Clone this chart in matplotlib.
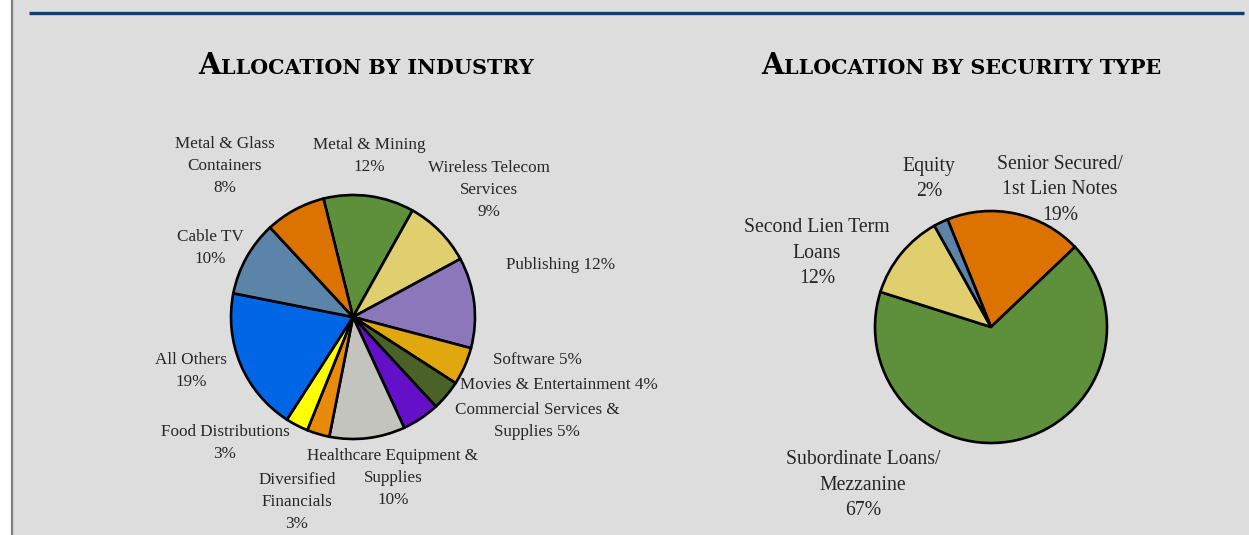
import matplotlib
matplotlib.use("Agg")
import matplotlib.pyplot as plt
from matplotlib.patches import Rectangle

# ---------------- data ----------------
industry_labels = ["Metal & Mining\n12%", "Wireless Telecom\nServices\n9%", "Publishing 12%",
                   "Software 5%", "Movies & Entertainment 4%", "Commercial Services &\nSupplies 5%",
                   "Healthcare Equipment &\nSupplies\n10%", "Diversified\nFinancials\n3%",
                   "Food Distributions\n3%", "All Others\n19%", "Cable TV\n10%",
                   "Metal & Glass\nContainers\n8%"]
industry_values = [12, 9, 12, 5, 4, 5, 10, 3, 3, 19, 10, 8]
industry_colors = ["#5E8F3A", "#DFCF6E", "#8B78BB", "#E0A80E", "#4A6228", "#6410C8",
                   "#C4C4BE", "#E88A0A", "#FFFF00", "#0066E6", "#5B84A8", "#DC7200"]

security_labels = ["Senior Secured/\n1st Lien Notes\n19%", "Subordinate Loans/\nMezzanine\n67%",
                   "Second Lien Term\nLoans\n12%", "Equity\n2%"]
security_values = [19, 67, 12, 2]
security_colors = ["#DC7200", "#5E8F3A", "#DFCF6E", "#5B84A8"]

title_left = "Allocation by industry"
title_right = "Allocation by security type"

# ---------------- layout ----------------
W, H = 1249, 535
BG = "#DDDDDD"
fig = plt.figure(figsize=(W / 100, H / 100), dpi=100)
fig.patch.set_facecolor("white")
ax = fig.add_axes([0, 0, 1, 1])

def py(y):  # pixel-from-top to data y
    return H - y

ax.add_patch(Rectangle((13, 0), W - 13, H, facecolor=BG, edgecolor="none", zorder=0))
ax.plot([12.5, 12.5], [0, H], color="#808080", lw=1.6, zorder=1, solid_capstyle="butt")
ax.plot([29, 1244], [py(12.5), py(12.5)], color="#0B3F7A", lw=2.4, zorder=1, solid_capstyle="butt")

# left pie
ax.pie(industry_values, colors=industry_colors, startangle=104, counterclock=False,
       center=(353, py(317)), radius=122, frame=True,
       wedgeprops=dict(edgecolor="black", linewidth=1.9))
# right pie
ax.pie(security_values, colors=security_colors, startangle=112, counterclock=False,
       center=(991, py(327)), radius=116, frame=True,
       wedgeprops=dict(edgecolor="black", linewidth=1.9))
ax.set_xlim(0, W)
ax.set_ylim(0, H)
ax.set_aspect("auto")
ax.axis("off")

serif = ["Liberation Serif", "DejaVu Serif"]
TXT = "#262626"

def block(lab, x, yc, fs, step):
    lines = lab.split("\n")
    n = len(lines)
    for i, line in enumerate(lines):
        y = yc + (i - (n - 1) / 2) * step
        ax.text(x, py(y), line, ha="center", va="center", fontsize=fs, family=serif,
                color=TXT, zorder=5)

ind_pos = [(369, 156), (489, 190), (561, 265), (537, 360), (559, 385), (537, 421),
           (393, 478), (297, 502), (225, 443), (191, 371), (210, 248), (225, 166)]
for lab, (x, y) in zip(industry_labels, ind_pos):
    block(lab, x, y, 12.3, 21.5)

sec_pos = [(1060, 190), (863, 485), (817, 253), (929, 179)]
for lab, (x, y) in zip(security_labels, sec_pos):
    block(lab, x, y, 14.2, 25.3)

# small-caps titles
fig.canvas.draw()
renderer = fig.canvas.get_renderer()

def smallcaps(text, xc, yc, target_w, big=15.5, small=11.0):
    pieces = [(text[0].upper(), big), (text[1:].upper(), small)]
    def measure(scale):
        arts, widths = [], []
        for s, fs in pieces:
            t = ax.text(0, 0, s.replace(" ", "\u00a0"), fontsize=fs * scale, family="DejaVu Serif",
                        weight="bold", ha="left", va="baseline")
            bb = t.get_window_extent(renderer)
            widths.append(bb.width)
            arts.append(t)
        return arts, widths
    arts, widths = measure(1.0)
    scale = target_w / sum(widths)
    for a in arts:
        a.remove()
    arts, widths = measure(scale)
    x = xc - sum(widths) / 2
    for a, w in zip(arts, widths):
        a.set_position((x, py(yc) - 6))
        a.set_color("black")
        x += w

smallcaps(title_left, 366, 68, 333)
smallcaps(title_right, 961, 68, 398)

fig.savefig("out.png", dpi=100, facecolor=fig.get_facecolor())
